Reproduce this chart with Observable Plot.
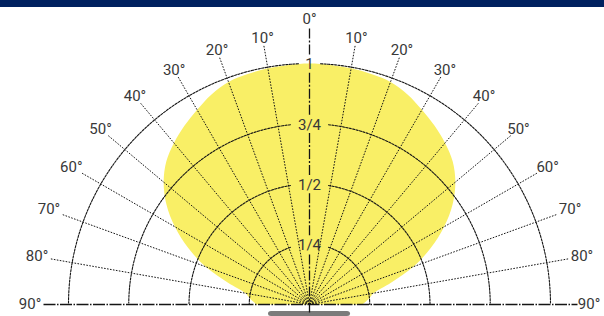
<!DOCTYPE html>
<html><head><meta charset="utf-8">
<script src="https://cdn.jsdelivr.net/npm/d3@7"></script>
<script src="https://cdn.jsdelivr.net/npm/@observablehq/plot@0.6"></script>
<style>
html,body{margin:0;padding:0;background:#fff;overflow:hidden;}
#bar{height:7px;background:#00215f;}
#chart svg{display:block;}
</style></head><body>
<div id="bar"></div>
<div id="chart"></div>
<script>
// Relative luminous intensity by angle from nadir (symmetric)
const angles    = [0, 5, 10, 15, 20, 25, 30, 35, 40, 45, 50, 55, 60, 65, 70, 75, 80, 85, 90];
const intensity = [1.0, 0.998, 0.995, 0.99, 0.983, 0.962, 0.933, 0.905, 0.875, 0.84, 0.79, 0.725, 0.645, 0.555, 0.46, 0.35, 0.27, 0.245, 0.22];
// Grid
const ringValues = [0.25, 0.5, 0.75, 1];
const ringLabels = ["1/4", "1/2", "3/4", "1"];
const spokeAngles = [-90, -80, -70, -60, -50, -40, -30, -20, -10, 0, 10, 20, 30, 40, 50, 60, 70, 80, 90];
const spokeLabels = ["90°", "80°", "70°", "60°", "50°", "40°", "30°", "20°", "10°", "0°", "10°", "20°", "30°", "40°", "50°", "60°", "70°", "80°", "90°"];

const W = 604, H = 309;
const CX = 309, CY = 297;   // centre in svg px
const R = 241;              // radius of "1"
const rad = d => d * Math.PI / 180;
const pol = (r, deg) => ({x: r * R * Math.sin(rad(deg)), y: r * R * Math.cos(rad(deg))});

// yellow distribution shape
const shape = [];
for (let i = angles.length - 1; i >= 1; i--) shape.push(pol(intensity[i], -angles[i]));
for (let i = 0; i < angles.length; i++) shape.push(pol(intensity[i], angles[i]));

// rings with gaps around the value labels
const ringPts = [];
ringValues.forEach((v, k) => {
  const half = v === 1 ? 11 : 19;
  const g = Math.asin(half / (v * R)) * 180 / Math.PI;
  for (const side of [-1, 1]) {
    for (let a = g; a <= 90.0001; a += 0.5) ringPts.push({...pol(v, side * a), z: k + "_" + side});
  }
});

// radial dotted spokes
const spokeEnd = 263 / R;
const spokes = spokeAngles.filter(a => Math.abs(a) !== 90 && a !== 0).map(a => ({a, ...pol(spokeEnd, a)}));

// vertical dash-dot axis, broken around labels
const gapH = 9;
const vStops = [-8, ...ringValues.flatMap(v => [v * R - gapH, v * R + gapH]), 276];
const vSegs = [];
for (let i = 0; i < vStops.length; i += 2) vSegs.push({y1: vStops[i], y2: vStops[i + 1]});

// angle labels
const lw = 11.5, lh = 5;
const labels = spokeAngles.map((a, i) => {
  let r;
  if (a === 0) r = 285;
  else {
    const s = Math.abs(Math.sin(rad(a))), c = Math.abs(Math.cos(rad(a)));
    const d = Math.min(s > 1e-6 ? lw / s : 1e9, c > 1e-6 ? lh / c : 1e9);
    r = (Math.abs(a) === 90 ? 266 : 263) + 2 + d;
  }
  return {x: r * Math.sin(rad(a)), y: r * Math.cos(rad(a)), t: spokeLabels[i]};
});

const ringText = ringValues.map((v, i) => ({x: 0, y: v * R - 1, t: ringLabels[i]}));

const ink = "#151515";
const chart = Plot.plot({
  width: W, height: H,
  margin: 0, marginTop: 0, marginRight: 0, marginBottom: 0, marginLeft: 0,
  x: {domain: [-CX, W - CX], range: [0, W], axis: null},
  y: {domain: [CY - H, CY], range: [H, 0], axis: null},
  style: {fontFamily: "Roboto, 'Noto Sans', sans-serif", background: "white", overflow: "hidden"},
  marks: [
    Plot.line(shape, {x: "x", y: "y", curve: "catmull-rom", fill: "#f9ef66", stroke: "none"}),
    Plot.rect([{x1: -41, x2: 41, y1: CY - H, y2: -7}], {x1: "x1", x2: "x2", y1: "y1", y2: "y2", fill: "#7b7b7b", rx: 3}),
    Plot.line(ringPts, {x: "x", y: "y", z: "z", stroke: ink, strokeWidth: 1.1, strokeDasharray: "2.2,1.3"}),
    Plot.link(spokes, {x1: () => 0, y1: () => 0, x2: "x", y2: "y", stroke: ink, strokeWidth: 1, strokeDasharray: "1.6,1.4"}),
    Plot.link([{x1: -266, x2: 268}], {x1: "x1", x2: "x2", y1: () => 0, y2: () => 0, stroke: ink, strokeWidth: 1.3, strokeDasharray: "12,1.5,1.5,1.5"}),
    Plot.link(vSegs, {x1: () => 0, x2: () => 0, y1: "y1", y2: "y2", stroke: ink, strokeWidth: 1.3, strokeDasharray: "10,2,2,2"}),
    Plot.text(labels, {x: "x", y: "y", text: "t", fontSize: 15, fill: "#383838"}),
    Plot.text(ringText, {x: "x", y: "y", text: "t", fontSize: 15, fill: "#383838"})
  ]
});
document.getElementById("chart").appendChild(chart);
</script>
</body></html>
